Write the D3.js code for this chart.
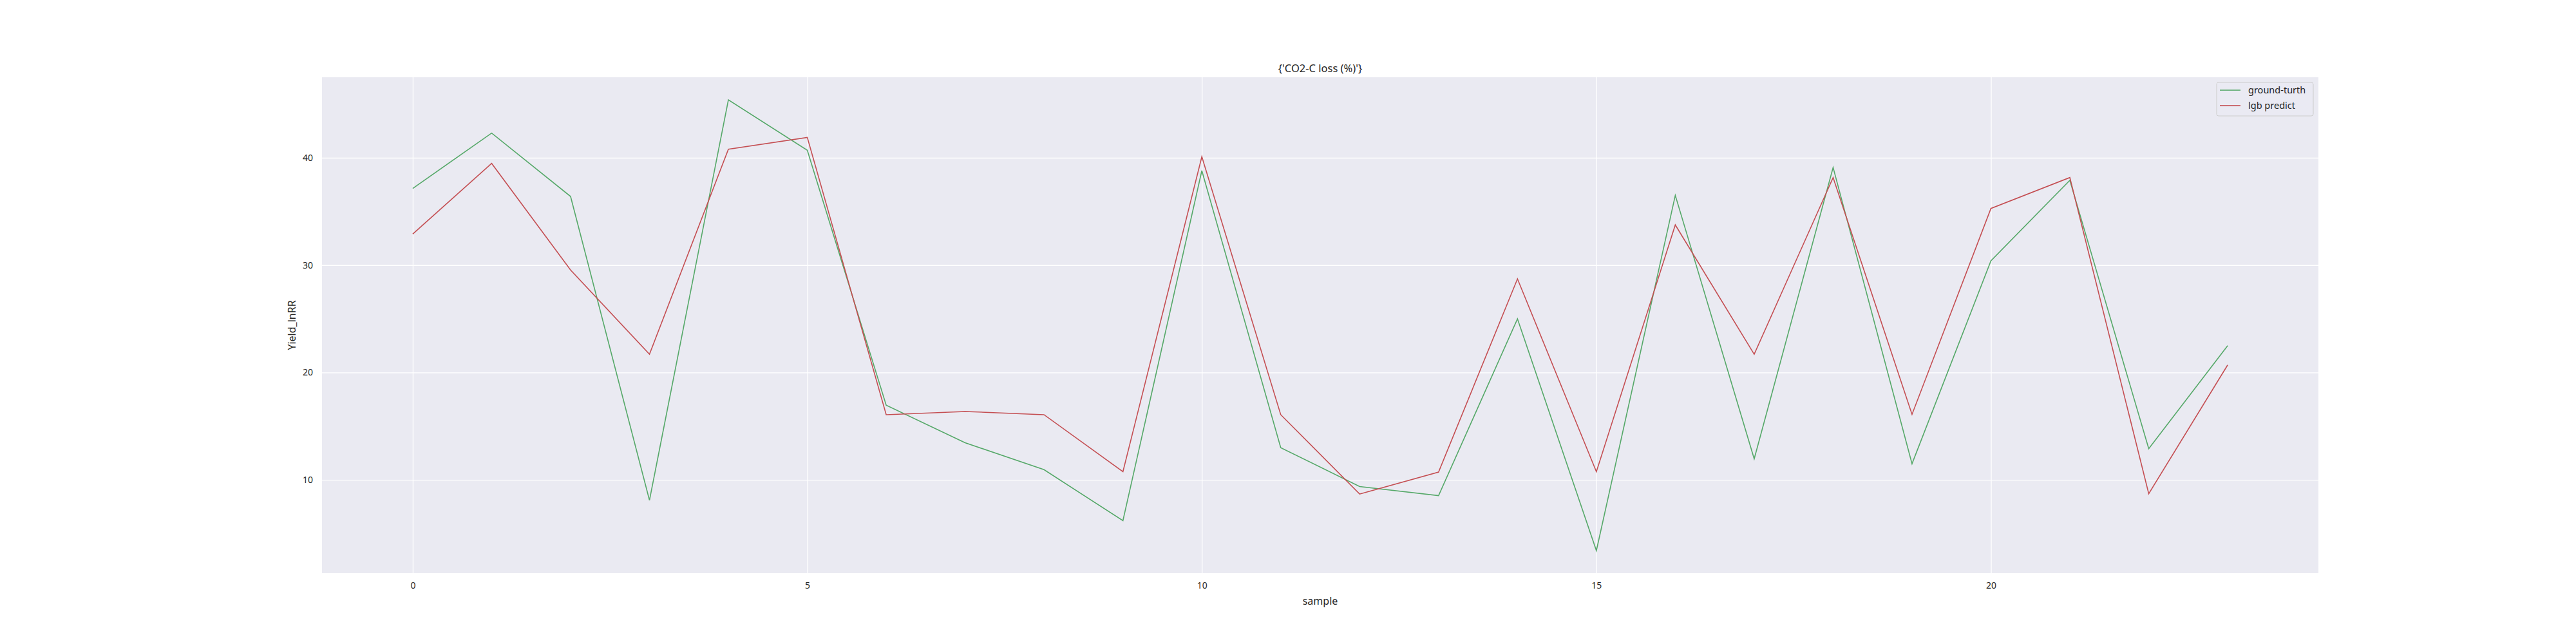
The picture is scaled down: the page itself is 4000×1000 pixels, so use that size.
<!DOCTYPE html>
<html>
<head>
<meta charset="utf-8">
<script src="https://cdn.jsdelivr.net/npm/d3@7"></script>
<style>
  body { margin: 0; background: #fff; }
  text { font-family: "Noto Sans", "Open Sans", sans-serif; fill: #262626; }
</style>
</head>
<body>
<svg id="chart" width="4000" height="1000"></svg>
<script>
// values
const samples = d3.range(24);
const groundTruth = [37.15, 42.3, 36.4, 8.1, 45.4, 40.7, 16.95, 13.46, 10.95, 6.2, 38.8, 13.0,
                     9.38, 8.53, 25.0, 3.41, 36.5, 11.96, 39.1, 11.5, 30.4, 37.9, 12.9, 22.5];
const lgbPredict = [32.9, 39.48, 29.55, 21.7, 40.8, 41.9, 16.07, 16.37, 16.07, 10.76, 40.1, 16.07,
                    8.68, 10.73, 28.72, 10.76, 33.75, 21.7, 38.16, 16.1, 35.28, 38.16, 8.71, 20.7];
const xTicks = [0, 5, 10, 15, 20];
const yTicks = [10, 20, 30, 40];
const seriesNames = ["ground-turth", "lgb predict"];
const seriesColors = ["#55a868", "#c44e52"];

const svg = d3.select("#chart"),
      width = +svg.attr("width"),
      height = +svg.attr("height"),
      margin = {top: 120, right: 400, bottom: 110, left: 500};

// matplotlib style 5% padding around the data
const xPad = (d3.max(samples) - d3.min(samples)) * 0.05;
const allY = groundTruth.concat(lgbPredict);
const yPad = (d3.max(allY) - d3.min(allY)) * 0.05;

const x = d3.scaleLinear()
    .domain([d3.min(samples) - xPad, d3.max(samples) + xPad])
    .range([margin.left, width - margin.right]);
const y = d3.scaleLinear()
    .domain([d3.min(allY) - yPad, d3.max(allY) + yPad])
    .range([height - margin.bottom, margin.top]);

// plot background
svg.append("rect")
    .attr("x", margin.left)
    .attr("y", margin.top)
    .attr("width", width - margin.left - margin.right)
    .attr("height", height - margin.top - margin.bottom)
    .attr("fill", "#eaeaf2");

// grid + tick labels
const xAxis = svg.append("g")
    .attr("transform", `translate(0,${height - margin.bottom})`)
    .call(d3.axisBottom(x).tickValues(xTicks).tickSize(-(height - margin.top - margin.bottom)).tickPadding(14));
const yAxis = svg.append("g")
    .attr("transform", `translate(${margin.left},0)`)
    .call(d3.axisLeft(y).tickValues(yTicks).tickSize(-(width - margin.left - margin.right)).tickPadding(14));

[xAxis, yAxis].forEach(g => {
    g.select(".domain").remove();
    g.selectAll(".tick line").attr("stroke", "#fff").attr("stroke-width", 1.3);
    g.selectAll(".tick text")
        .attr("font-size", 14)
        .attr("fill", "#262626")
        .style("font-family", "'Noto Sans', sans-serif");
});

// series lines
const line = d3.line()
    .x((d, i) => x(samples[i]))
    .y(d => y(d));

[groundTruth, lgbPredict].forEach((vals, k) => {
    svg.append("path")
        .datum(vals)
        .attr("d", line)
        .attr("fill", "none")
        .attr("stroke", seriesColors[k])
        .attr("stroke-width", 1.6);
});

// title and axis labels
svg.append("text")
    .attr("x", (margin.left + width - margin.right) / 2)
    .attr("y", margin.top - 8)
    .attr("text-anchor", "middle")
    .attr("font-size", 16.5)
    .text("{'CO2-C loss (%)'}");

svg.append("text")
    .attr("x", (margin.left + width - margin.right) / 2)
    .attr("y", height - margin.bottom + 49)
    .attr("text-anchor", "middle")
    .attr("font-size", 16)
    .text("sample");

svg.append("text")
    .attr("transform", "rotate(-90)")
    .attr("x", -(margin.top + height - margin.bottom) / 2)
    .attr("y", margin.left - 41)
    .attr("text-anchor", "middle")
    .attr("font-size", 16)
    .text("Yield_lnRR");

// legend
const legend = svg.append("g")
    .attr("transform", `translate(${width - margin.right - 158},${margin.top + 8})`);

legend.append("rect")
    .attr("width", 150)
    .attr("height", 52)
    .attr("rx", 3)
    .attr("fill", "#eaeaf2")
    .attr("fill-opacity", 0.8)
    .attr("stroke", "#cccccc")
    .attr("stroke-width", 1);

seriesNames.forEach((name, k) => {
    const row = legend.append("g").attr("transform", `translate(0,${12 + k * 24})`);
    row.append("line")
        .attr("x1", 5).attr("x2", 37)
        .attr("stroke", seriesColors[k])
        .attr("stroke-width", 1.6);
    row.append("text")
        .attr("x", 49)
        .attr("dy", "0.35em")
        .attr("font-size", 14.5)
        .text(name);
});
</script>
</body>
</html>
